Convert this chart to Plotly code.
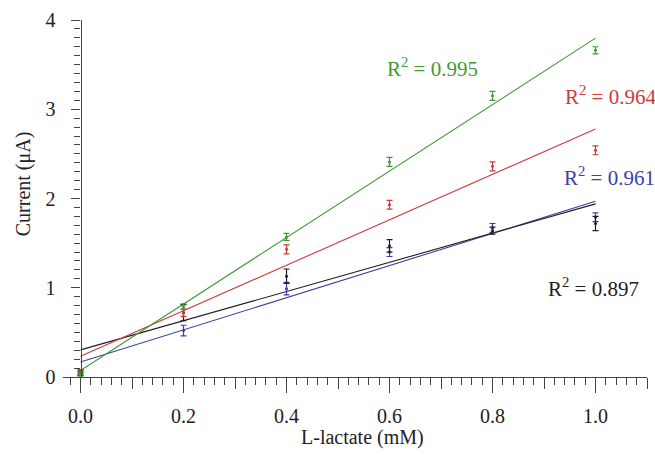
import numpy as np
import plotly.graph_objects as go

# L-lactate concentrations (mM)
conc = [0.0, 0.2, 0.4, 0.6, 0.8, 1.0]

# Mean current (uA) and error for each electrode
green_y = [0.03, 0.79, 1.57, 2.41, 3.15, 3.66]
green_err = [0.02, 0.03, 0.04, 0.05, 0.05, 0.04]
red_y = [0.06, 0.72, 1.43, 1.93, 2.36, 2.54]
red_err = [0.02, 0.04, 0.05, 0.05, 0.05, 0.05]
blue_y = [0.04, 0.52, 0.99, 1.40, 1.67, 1.79]
blue_err = [0.02, 0.06, 0.07, 0.05, 0.05, 0.05]
black_y = [0.05, 0.72, 1.13, 1.47, 1.64, 1.72]
black_err = [0.03, 0.09, 0.08, 0.07, 0.04, 0.08]

r2_labels = ["0.995", "0.964", "0.961", "0.897"]

GREEN = "#3f9a35"
RED = "#d0393b"
BLUE = "#3b40a6"
BLACK = "#1e1e1e"
FONT = "Liberation Serif"

series = [
    ("blue", blue_y, blue_err, BLUE),
    ("black", black_y, black_err, BLACK),
    ("red", red_y, red_err, RED),
    ("green", green_y, green_err, GREEN),
]

fig = go.Figure()

# Linear fits
x_fit = np.array([0.0, 1.0])
for name, ys, errs, col in series:
    slope, icpt = np.polyfit(conc, ys, 1)
    fig.add_trace(go.Scatter(
        x=x_fit, y=slope * x_fit + icpt, mode="lines",
        line=dict(color=col, width=1.1), showlegend=False, hoverinfo="skip",
    ))

# Measured points with error bars
for name, ys, errs, col in series:
    fig.add_trace(go.Scatter(
        x=conc, y=ys, mode="markers",
        marker=dict(color=col, size=3),
        error_y=dict(type="data", array=errs, visible=True, color=col,
                     thickness=1.2, width=3),
        showlegend=False, name=name,
    ))

# Invisible trace carrying the secondary x axis (mid-size ticks)
fig.add_trace(go.Scatter(x=[0.5], y=[0], xaxis="x2", mode="markers",
                         marker=dict(opacity=0), showlegend=False,
                         hoverinfo="skip"))

x_range = [-0.034, 1.1]
y_axis_pos = (0 - x_range[0]) / (x_range[1] - x_range[0])

fig.update_layout(
    width=655, height=455,
    margin=dict(l=63, r=8, t=20, b=78),
    plot_bgcolor="white", paper_bgcolor="white",
    font=dict(family=FONT, size=20, color="#222"),
    xaxis=dict(
        range=x_range, showgrid=False, zeroline=False,
        showline=True, linecolor="#444", linewidth=1.2,
        tickmode="array", tickvals=[0, 0.2, 0.4, 0.6, 0.8, 1.0],
        ticktext=["0.0", "0.2", "0.4", "0.6", "0.8", "1.0"],
        ticks="outside", ticklen=15, tickwidth=1.2, tickcolor="#444",
        ticklabelstandoff=6,
        minor=dict(dtick=0.02, tick0=0, ticks="outside", ticklen=7,
                   tickwidth=1, tickcolor="#444"),
    ),
    xaxis2=dict(
        range=x_range, overlaying="x", anchor="y", side="bottom",
        showgrid=False, zeroline=False, showline=False,
        tickmode="array", tickvals=[0.1, 0.3, 0.5, 0.7, 0.9, 1.1],
        showticklabels=False,
        ticks="outside", ticklen=11, tickwidth=1, tickcolor="#444",
    ),
    yaxis=dict(
        range=[0, 4], showgrid=False, zeroline=False,
        anchor="free", position=y_axis_pos,
        showline=True, linecolor="#444", linewidth=1.2,
        tickmode="array", tickvals=[0, 1, 2, 3, 4],
        ticks="outside", ticklen=9, tickwidth=1.2, tickcolor="#444",
        ticklabelstandoff=12,
        minor=dict(dtick=0.1, tick0=0, ticks="outside", ticklen=6,
                   tickwidth=1, tickcolor="#444"),
    ),
)

# Axis titles
fig.add_annotation(text="L-lactate (mM)", xref="x", yref="paper",
                   x=0.548, y=0, yanchor="middle", yshift=-60,
                   showarrow=False, font=dict(family=FONT, size=20, color="#222"))
fig.add_annotation(text="Current (\u03bcA)", xref="paper", yref="y",
                   x=0, y=2.16, xanchor="center", xshift=-40, textangle=-90,
                   showarrow=False, font=dict(family=FONT, size=20, color="#222"))

# Coefficient of determination labels
label_pos = [(0.591, 3.47, GREEN), (0.936, 3.15, RED),
             (0.934, 2.25, BLUE), (0.9035, 1.0, BLACK)]
for txt, (lx, ly, col) in zip(r2_labels, label_pos):
    fig.add_annotation(text=f"R<sup>2</sup> = {txt}", xref="x", yref="y",
                       x=lx, y=ly, xanchor="left", yanchor="middle",
                       showarrow=False,
                       font=dict(family=FONT, size=21, color=col))

fig.write_html("out.html")
